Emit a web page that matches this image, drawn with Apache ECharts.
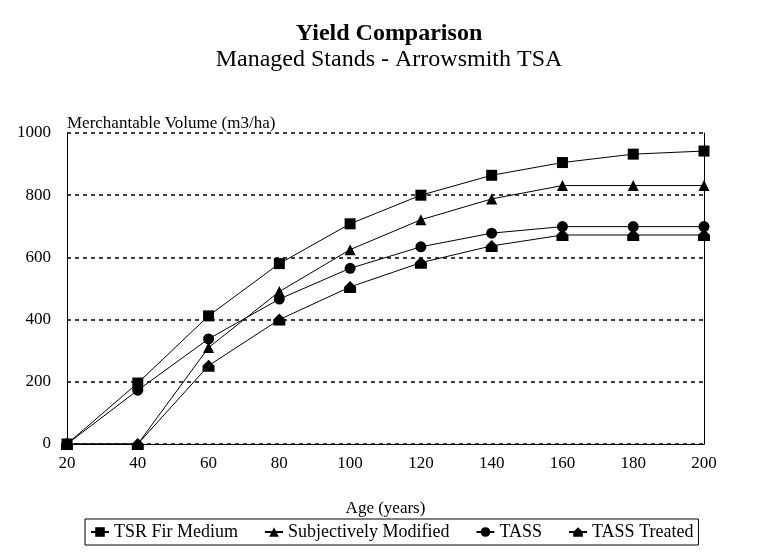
<!DOCTYPE html>
<html>
<head>
<meta charset="utf-8">
<script src="https://cdn.jsdelivr.net/npm/echarts@6/dist/echarts.min.js"></script>
<style>
  html, body { margin: 0; padding: 0; background: #fff; }
  #chart { width: 778px; height: 556px; }
</style>
</head>
<body>
<div id="chart"></div>
<script>
const ages = [20, 40, 60, 80, 100, 120, 140, 160, 180, 200]
const tsrFirMedium = [0, 196, 412, 580, 708, 800, 864, 905, 932, 942]
const subjectivelyModified = [0, 0, 310, 490, 625, 721, 788, 831, 831, 831]
const tass = [0, 173, 338, 466, 565, 634, 678, 699, 699, 699]
const tassTreated = [0, 0, 252, 400, 505, 583, 637, 672, 672, 672]

const font = 'Liberation Serif'
const house = 'path://M5,0 L10,5 L10,10 L0,10 L0,5 Z'

function pairs (vals) {
  return ages.map((a, i) => [a, vals[i]])
}

function lineSeries (name, vals, symbol, size) {
  return {
    name: name,
    type: 'line',
    data: pairs(vals),
    symbol: symbol,
    symbolSize: size,
    showAllSymbol: true,
    lineStyle: { color: '#000', width: 1 },
    itemStyle: { color: '#000' },
    emphasis: { disabled: true }
  }
}

const chart = echarts.init(document.getElementById('chart'))
chart.setOption({
  animation: false,
  color: ['#000'],
  title: [
    {
      text: 'Yield Comparison',
      left: 'center',
      top: 17,
      textStyle: { fontFamily: font, fontSize: 24, fontWeight: 'bold', color: '#000' }
    },
    {
      text: 'Managed Stands - Arrowsmith TSA',
      left: 'center',
      top: 43,
      textStyle: { fontFamily: font, fontSize: 24, fontWeight: 'normal', color: '#000' }
    },
    {
      text: 'Merchantable Volume (m3/ha)',
      left: 62,
      top: 110,
      textStyle: { fontFamily: font, fontSize: 17, fontWeight: 'normal', color: '#000' }
    }
  ],
  grid: { left: 67, right: 74, top: 133, bottom: 112 },
  legend: {
    left: 85,
    top: 519,
    borderColor: '#000',
    borderWidth: 1,
    padding: [4, 5],
    itemGap: 26,
    itemWidth: 18,
    itemHeight: 12,
    textStyle: { fontFamily: font, fontSize: 18, color: '#000' },
    data: ['TSR Fir Medium', 'Subjectively Modified', 'TASS', 'TASS Treated']
  },
  xAxis: {
    type: 'value',
    min: 20,
    max: 200,
    interval: 20,
    name: 'Age (years)',
    nameLocation: 'middle',
    nameGap: 56,
    nameTextStyle: { fontFamily: font, fontSize: 17, color: '#000' },
    axisLine: { lineStyle: { color: '#000', width: 1 } },
    axisTick: { show: false },
    splitLine: { show: false },
    axisLabel: { fontFamily: font, fontSize: 17, color: '#000', margin: 11 }
  },
  yAxis: [
    {
      type: 'value',
      min: 0,
      max: 1000,
      interval: 200,
      axisLine: { show: true, lineStyle: { color: '#000', width: 1 } },
      axisTick: { show: false },
      axisLabel: {
        fontFamily: font,
        fontSize: 17,
        color: '#000',
        margin: 16,
        formatter: function (v) { return String(v) }
      },
      splitLine: { show: true, lineStyle: { color: '#000', width: 1.5, type: [4, 4] } }
    },
    {
      type: 'value',
      position: 'right',
      min: 0,
      max: 1000,
      interval: 200,
      axisLine: { show: true, lineStyle: { color: '#000', width: 1 } },
      axisTick: { show: false },
      axisLabel: { show: false },
      splitLine: { show: false }
    }
  ],
  series: [
    lineSeries('TSR Fir Medium', tsrFirMedium, 'rect', 11),
    lineSeries('Subjectively Modified', subjectivelyModified, 'triangle', 11),
    lineSeries('TASS', tass, 'circle', 11),
    lineSeries('TASS Treated', tassTreated, house, 12)
  ]
})
</script>
</body>
</html>
